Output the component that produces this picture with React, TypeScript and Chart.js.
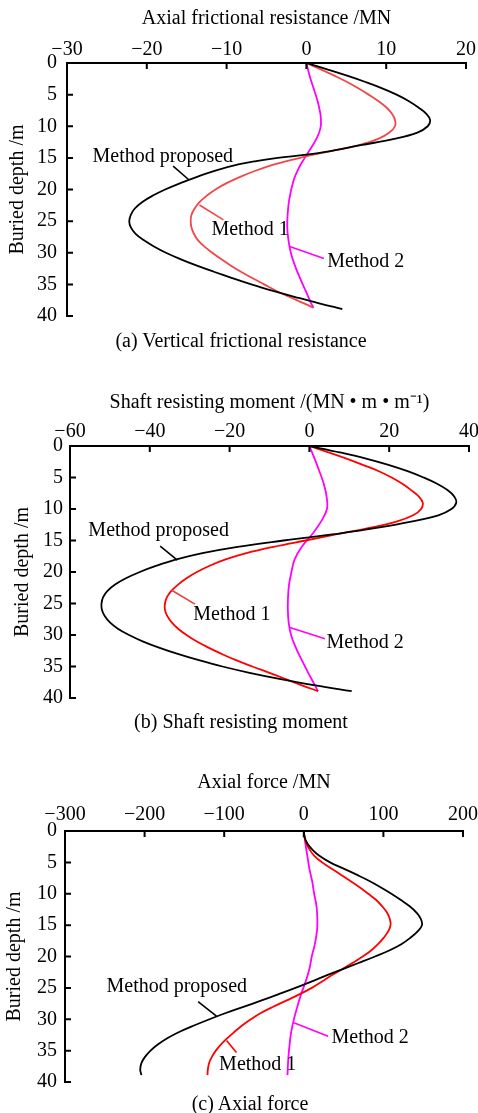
import React, { useEffect, useRef } from "react";
import { Chart, registerables } from "chart.js";
Chart.register(...registerables);

const FONT = '"Liberation Serif", "Times New Roman", serif';

// ---------- Panel (a): axial frictional resistance (MN) vs buried depth (m) ----------
const depthA = [0, 1, 2, 3, 4, 5, 6, 7, 8, 9, 10, 11, 12, 13, 14, 14.5, 15, 15.5, 16, 17, 18, 19, 20, 21, 22, 23, 24, 25, 26, 27, 28, 29, 30, 31, 32, 33, 34, 35, 36, 37, 38, 38.9];
const aProposed = [0, 2.6, 5.1, 7.4, 9.5, 11.3, 12.8, 14.0, 15.0, 15.5, 15.2, 13.9, 11.0, 6.8, 2.6, 0, -3.6, -6.3, -8.4, -11.4, -13.7, -15.8, -17.7, -19.3, -20.6, -21.5, -22.0, -22.2, -22.0, -21.4, -20.4, -19.1, -17.6, -15.8, -13.8, -11.6, -9.3, -6.9, -4.3, -1.4, 1.6, 4.5];
const depthA1 = [0, 1, 2, 3, 4, 5, 6, 7, 8, 9, 10, 11, 12, 13, 14, 15, 16, 17, 18, 19, 20, 21, 22, 23, 24, 25, 26, 27, 28, 29, 30, 31, 32, 33, 34, 35, 36, 37, 38, 38.7];
const aMethod1 = [0, 1.8, 3.5, 5.1, 6.5, 7.8, 9.0, 10.0, 10.7, 11.1, 11.1, 10.4, 9.0, 6.6, 2.8, -0.8, -3.9, -6.3, -8.3, -10.0, -11.4, -12.5, -13.4, -14.0, -14.4, -14.5, -14.4, -14.1, -13.6, -12.8, -11.8, -10.7, -9.5, -8.2, -6.8, -5.3, -3.8, -2.1, -0.3, 0.9];
const depthA2 = [0, 2, 4, 6, 8, 9, 10, 11, 12, 13, 14, 15, 16, 17, 18, 19, 20, 22, 24, 26, 28, 30, 32, 34, 36, 38, 38.7];
const aMethod2 = [0, 0.4, 0.9, 1.4, 1.75, 1.82, 1.8, 1.6, 1.25, 0.8, 0.3, -0.2, -0.7, -1.1, -1.45, -1.7, -1.9, -2.2, -2.35, -2.4, -2.25, -1.95, -1.45, -0.8, -0.1, 0.6, 0.9];

// ---------- Panel (b): shaft resisting moment (MN·m/m) vs buried depth (m) ----------
const depthB = [0, 1, 2, 3, 4, 5, 6, 7, 8, 9, 10, 11, 12, 13, 14, 14.5, 15, 16, 17, 18, 19, 20, 21, 22, 23, 24, 25, 26, 27, 28, 29, 30, 31, 32, 33, 34, 35, 36, 37, 38, 38.9];
const bProposed = [0, 7.5, 14.2, 19.8, 24.6, 28.6, 32.0, 34.6, 36.3, 36.8, 35.6, 32.3, 25.5, 16.8, 6.2, 0, -6.5, -18.0, -26.8, -33.3, -38.3, -42.5, -46.0, -48.7, -50.6, -51.7, -52.1, -52.0, -51.3, -50.0, -48.0, -45.2, -41.8, -37.7, -33.0, -27.7, -21.8, -15.0, -7.2, 1.5, 10.6];
const depthB1 = [0, 1, 2, 3, 4, 5, 6, 7, 8, 9, 10, 11, 12, 13, 14, 15, 16, 17, 18, 19, 20, 21, 22, 23, 24, 25, 26, 27, 28, 29, 30, 31, 32, 33, 34, 35, 36, 37, 38, 38.9];
const bMethod1 = [0, 4.8, 9.3, 13.4, 17.4, 20.6, 23.3, 25.5, 27.4, 28.4, 28.0, 26.0, 21.8, 15.0, 7.0, -1.0, -9.0, -15.8, -21.0, -25.0, -28.2, -30.8, -32.9, -34.6, -35.7, -36.2, -36.2, -35.6, -34.5, -32.9, -30.8, -28.3, -25.3, -22.0, -18.4, -14.3, -10.0, -5.9, -1.9, 2.2];
const depthB2 = [0, 2, 4, 6, 8, 10, 12, 14, 16, 18, 20, 22, 24, 26, 28, 30, 32, 34, 36, 38, 38.9];
const bMethod2 = [0, 1.3, 2.5, 3.6, 4.3, 4.4, 2.9, 0.7, -1.9, -3.7, -4.5, -5.1, -5.35, -5.4, -5.2, -4.6, -3.4, -1.9, -0.3, 1.4, 2.1];

// ---------- Panel (c): axial force (MN) vs buried depth (m) ----------
const depthC = [0, 1, 2, 3, 4, 5, 6, 7, 8, 9, 10, 11, 12, 13, 14, 15, 16, 17, 18, 19, 20, 21, 22, 23, 24, 25, 26, 27, 28, 29, 30, 31, 32, 33, 34, 35, 36, 37, 38, 38.9];
const cProposed = [0, 1, 4.5, 11, 20, 33, 50, 67, 83, 97, 110, 122, 133, 141.5, 147, 148.5, 143, 134, 123, 108, 89.5, 69.5, 49, 28.5, 9.5, -10.5, -31.5, -53, -75, -98, -118.5, -138, -156, -171, -183, -192.5, -199.5, -204, -205.5, -204];
const cMethod1 = [0, 1, 3.2, 7.5, 13.5, 23, 35, 47, 59, 70.5, 81, 91, 98.5, 104.5, 108, 109, 106, 100.5, 93.5, 85, 74, 61.5, 48.5, 35, 23, 10, -5, -21.5, -38.5, -54, -66.5, -77.5, -87, -96, -104, -110.5, -115.5, -119, -120.5, -121];
const depthC2 = [0, 2, 4, 6, 8, 10, 12, 14, 15, 16, 18, 19, 20, 22, 24, 26, 28, 30, 32, 34, 36, 38, 38.9];
const cMethod2 = [0, 2, 4.5, 7, 10.5, 13, 16, 17, 17, 16.5, 14, 12, 10, 7, 2.3, -3.4, -8.1, -12.4, -15.8, -17.8, -19.3, -20.2, -20.5];

const depthTicks = { min: 0, max: 40, step: 5 };
const Y_TITLE = "Buried depth /m";

const BLACK = "#000000";
const RED_A = "#f04848";
const RED = "#ff0000";
const MAGENTA = "#ff00ff";

type Ann = { text: string; tx: number; ty: number; line: number[]; color: string };

const annA: Ann[] = [
  { text: "Method proposed", tx: -26.8, ty: 15.6, line: [-16.7, 16.3, -14.7, 18.5], color: BLACK },
  { text: "Method 1", tx: -11.9, ty: 27.2, line: [-13.4, 22.45, -10.4, 24.8], color: RED_A },
  { text: "Method 2", tx: 2.6, ty: 32.2, line: [-2.1, 29.0, 2.2, 30.9], color: MAGENTA },
];
const annB: Ann[] = [
  { text: "Method proposed", tx: -55.4, ty: 14.3, line: [-37.4, 15.9, -33.1, 18.1], color: BLACK },
  { text: "Method 1", tx: -29.1, ty: 27.6, line: [-34.5, 22.9, -28.7, 25.1], color: "#e84040" },
  { text: "Method 2", tx: 4.3, ty: 32.1, line: [-4.9, 28.8, 3.9, 30.6], color: MAGENTA },
];
const annC: Ann[] = [
  { text: "Method proposed", tx: -247.9, ty: 25.6, line: [-132.8, 27.2, -109.7, 29.5], color: BLACK },
  { text: "Method 1", tx: -106.4, ty: 38.1, line: [-97.1, 33.4, -84.6, 35.3], color: RED },
  { text: "Method 2", tx: 34.8, ty: 33.8, line: [-13.4, 30.5, 30.5, 32.7], color: MAGENTA },
];

type Panel = {
  top: number;
  height: number;
  xMin: number;
  xMax: number;
  xStep: number;
  xTitle: string;
  series: { depths: number[]; values: number[]; color: string }[];
  ann: Ann[];
  padRight: number;
  padBottom: number;
  xHeight: number;
  yWidth: number;
  xTitlePad: number;
  xTickPad: number;
  yTickPad: number;
  yTitlePad: number;
  caption: string;
  captionTop: number;
  captionCenter: number;
};

const panels: Panel[] = [
  {
    top: 0, height: 350, xMin: -30, xMax: 20, xStep: 10,
    xTitle: "Axial frictional resistance /MN",
    series: [
      { depths: depthA, values: aProposed, color: BLACK },
      { depths: depthA1, values: aMethod1, color: RED_A },
      { depths: depthA2, values: aMethod2, color: MAGENTA },
    ],
    ann: annA,
    padRight: 12, padBottom: 34, xHeight: 63, yWidth: 67,
    xTitlePad: 7, xTickPad: 1, yTickPad: 10, yTitlePad: 5.5,
    caption: "(a) Vertical frictional resistance", captionTop: 328, captionCenter: 241,
  },
  {
    top: 350, height: 385, xMin: -60, xMax: 40, xStep: 20,
    xTitle: "Shaft resisting moment /(MN \u2022 m \u2022 m\u207B\u00B9)",
    series: [
      { depths: depthB, values: bProposed, color: BLACK },
      { depths: depthB1, values: bMethod1, color: RED },
      { depths: depthB2, values: bMethod2, color: MAGENTA },
    ],
    ann: annB,
    padRight: 9, padBottom: 37, xHeight: 96, yWidth: 70,
    xTitlePad: 41, xTickPad: 2.4, yTickPad: 7, yTitlePad: 10.5,
    caption: "(b) Shaft resisting moment", captionTop: 708.5, captionCenter: 241,
  },
  {
    top: 735, height: 378, xMin: -300, xMax: 200, xStep: 100,
    xTitle: "Axial force /MN",
    series: [
      { depths: depthC, values: cProposed, color: BLACK },
      { depths: depthC, values: cMethod1, color: RED },
      { depths: depthC2, values: cMethod2, color: MAGENTA },
    ],
    ann: annC,
    padRight: 15, padBottom: 31, xHeight: 96, yWidth: 65,
    xTitlePad: 35.6, xTickPad: 4.7, yTickPad: 8, yTitlePad: 2.5,
    caption: "(c) Axial force", captionTop: 1091, captionCenter: 250,
  },
];

const fmt = (v: number) => (v < 0 ? "\u2212" + Math.abs(v) : String(v));

const axisPlugin = {
  id: "axisLines",
  afterDraw(chart: any) {
    const { ctx, chartArea } = chart;
    const xs = chart.scales.x;
    const ys = chart.scales.y;
    ctx.save();
    ctx.strokeStyle = "#000";
    ctx.lineWidth = 2;
    ctx.lineCap = "butt";
    ctx.beginPath();
    ctx.moveTo(chartArea.left - 1, chartArea.top);
    ctx.lineTo(chartArea.right + 1, chartArea.top);
    ctx.moveTo(chartArea.left, chartArea.top);
    ctx.lineTo(chartArea.left, chartArea.bottom + 1);
    xs.ticks.forEach((t: any) => {
      const px = xs.getPixelForValue(t.value);
      ctx.moveTo(px, chartArea.top);
      ctx.lineTo(px, chartArea.top + 6);
    });
    ys.ticks.forEach((t: any) => {
      const py = ys.getPixelForValue(t.value);
      ctx.moveTo(chartArea.left, py);
      ctx.lineTo(chartArea.left + 6, py);
    });
    ctx.stroke();
    ctx.restore();
  },
};

const annPlugin = {
  id: "annot",
  afterDatasetsDraw(chart: any, _args: any, opts: any) {
    const { ctx } = chart;
    const xs = chart.scales.x;
    const ys = chart.scales.y;
    ctx.save();
    (opts.items || []).forEach((a: Ann) => {
      ctx.strokeStyle = a.color;
      ctx.lineWidth = 1.6;
      ctx.beginPath();
      ctx.moveTo(xs.getPixelForValue(a.line[0]), ys.getPixelForValue(a.line[1]));
      ctx.lineTo(xs.getPixelForValue(a.line[2]), ys.getPixelForValue(a.line[3]));
      ctx.stroke();
      ctx.fillStyle = "#000";
      ctx.font = "20px " + FONT;
      ctx.textAlign = "left";
      ctx.textBaseline = "alphabetic";
      ctx.fillText(a.text, xs.getPixelForValue(a.tx), ys.getPixelForValue(a.ty));
    });
    ctx.restore();
  },
};

function PanelChart({ p }: { p: Panel }) {
  const ref = useRef<HTMLCanvasElement | null>(null);
  useEffect(() => {
    if (!ref.current) return;
    const chart = new Chart(ref.current, {
      type: "scatter",
      data: {
        datasets: p.series.map((s) => ({
          data: s.depths.map((d, i) => ({ x: s.values[i], y: d })),
          showLine: true,
          borderColor: s.color,
          backgroundColor: s.color,
          borderWidth: 1.8,
          pointRadius: 0,
          tension: 0.4,
          fill: false,
        })),
      },
      options: {
        responsive: false,
        animation: false,
        layout: { padding: { top: 0, left: 0, right: p.padRight, bottom: p.padBottom } },
        plugins: {
          legend: { display: false },
          tooltip: { enabled: false },
          annot: { items: p.ann },
        } as any,
        scales: {
          x: {
            type: "linear",
            position: "top",
            min: p.xMin,
            max: p.xMax,
            ticks: {
              stepSize: p.xStep,
              padding: p.xTickPad,
              color: "#000",
              font: { size: 20, family: FONT },
              maxRotation: 0,
              callback: (v: any) => fmt(Number(v)),
            },
            grid: { display: false, drawTicks: false },
            border: { display: false },
            title: {
              display: true,
              text: p.xTitle,
              color: "#000",
              font: { size: 20, family: FONT },
              padding: { top: p.xTitlePad, bottom: 0 },
            },
            afterFit: (s: any) => {
              s.height = p.xHeight;
              s.paddingLeft = 0;
              s.paddingRight = 0;
            },
          },
          y: {
            type: "linear",
            reverse: true,
            min: depthTicks.min,
            max: depthTicks.max,
            ticks: {
              stepSize: depthTicks.step,
              padding: p.yTickPad,
              color: "#000",
              font: { size: 20, family: FONT },
            },
            grid: { display: false, drawTicks: false },
            border: { display: false },
            title: {
              display: true,
              text: Y_TITLE,
              color: "#000",
              font: { size: 20, family: FONT },
              padding: { top: p.yTitlePad, bottom: 0 },
            },
            afterFit: (s: any) => {
              s.width = p.yWidth;
              s.paddingTop = 0;
              s.paddingBottom = 0;
            },
          },
        },
      } as any,
      plugins: [axisPlugin, annPlugin],
    });
    return () => chart.destroy();
  }, [p]);
  return (
    <canvas
      ref={ref}
      width={478}
      height={p.height}
      style={{ position: "absolute", left: 0, top: p.top, width: 478, height: p.height }}
    />
  );
}

export default function App() {
  return (
    <div style={{ position: "absolute", left: 0, top: 0, width: 478, height: 1113, overflow: "hidden", background: "#fff" }}>
      {panels.map((p, i) => (
        <React.Fragment key={i}>
          <PanelChart p={p} />
          <div
            style={{
              position: "absolute",
              left: p.captionCenter - 200,
              width: 400,
              top: p.captionTop,
              textAlign: "center",
              fontFamily: FONT,
              fontSize: 20,
              lineHeight: "24px",
              color: "#000",
              whiteSpace: "nowrap",
            }}
          >
            {p.caption}
          </div>
        </React.Fragment>
      ))}
    </div>
  );
}
